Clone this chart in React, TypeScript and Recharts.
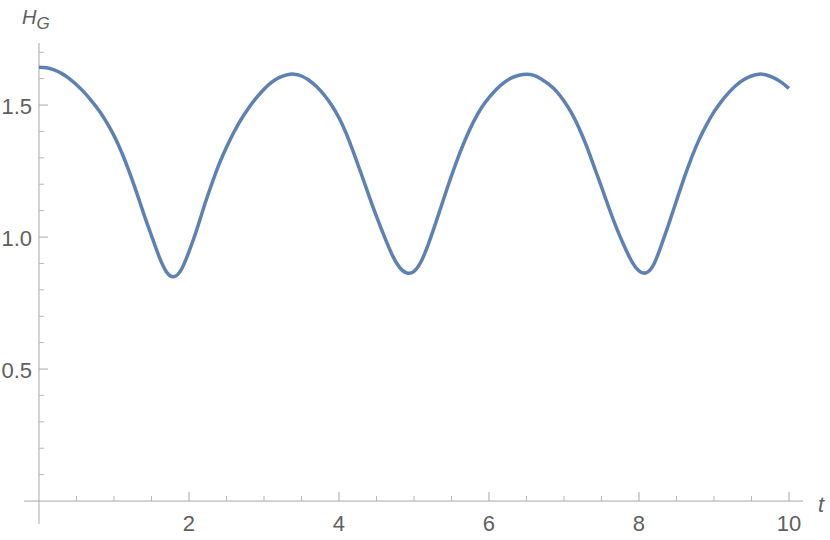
import React from 'react';
import { LineChart, Line, XAxis, YAxis, ReferenceLine } from 'recharts';

const tValues = [
  0.0, 0.1, 0.2, 0.3, 0.4, 0.5, 0.6, 0.7, 0.8, 0.9,
  1.0, 1.1, 1.2, 1.3, 1.4, 1.5, 1.6, 1.7, 1.8, 1.9,
  2.0, 2.1, 2.2, 2.3, 2.4, 2.5, 2.6, 2.7, 2.8, 2.9,
  3.0, 3.1, 3.2, 3.3, 3.4, 3.5, 3.6, 3.7, 3.8, 3.9,
  4.0, 4.1, 4.2, 4.3, 4.4, 4.5, 4.6, 4.7, 4.8, 4.9,
  5.0, 5.1, 5.2, 5.3, 5.4, 5.5, 5.6, 5.7, 5.8, 5.9,
  6.0, 6.1, 6.2, 6.3, 6.4, 6.5, 6.6, 6.7, 6.8, 6.9,
  7.0, 7.1, 7.2, 7.3, 7.4, 7.5, 7.6, 7.7, 7.8, 7.9,
  8.0, 8.1, 8.2, 8.3, 8.4, 8.5, 8.6, 8.7, 8.8, 8.9,
  9.0, 9.1, 9.2, 9.3, 9.4, 9.5, 9.6, 9.7, 9.8, 9.9,
  10.0,
];

const hValues = [
  1.643, 1.641, 1.633, 1.620, 1.601, 1.577, 1.549, 1.516, 1.479, 1.435,
  1.384, 1.322, 1.250, 1.170, 1.085, 1.005, 0.927, 0.868, 0.850, 0.878,
  0.945, 1.025, 1.115, 1.198, 1.275, 1.340, 1.398, 1.448, 1.491, 1.528,
  1.560, 1.586, 1.604, 1.614, 1.617, 1.610, 1.594, 1.570, 1.539, 1.500,
  1.452, 1.390, 1.316, 1.237, 1.156, 1.078, 1.005, 0.938, 0.888, 0.864,
  0.870, 0.910, 0.980, 1.062, 1.148, 1.232, 1.310, 1.380, 1.440, 1.490,
  1.528, 1.560, 1.585, 1.603, 1.613, 1.617, 1.612, 1.598, 1.578, 1.552,
  1.515, 1.470, 1.413, 1.345, 1.268, 1.190, 1.110, 1.035, 0.968, 0.910,
  0.872, 0.865, 0.898, 0.970, 1.052, 1.138, 1.222, 1.300, 1.368, 1.425,
  1.474, 1.514, 1.548, 1.576, 1.597, 1.610, 1.617, 1.614, 1.603, 1.586,
  1.563,
];

const xMajorTicks = [2, 4, 6, 8, 10];
const xMinorTicks = [0.5, 1, 1.5, 2.5, 3, 3.5, 4.5, 5, 5.5, 6.5, 7, 7.5, 8.5, 9, 9.5];
const yMajorTicks = [0.5, 1.0, 1.5];
const yMinorTicks = [0.1, 0.2, 0.3, 0.4, 0.6, 0.7, 0.8, 0.9, 1.1, 1.2, 1.3, 1.4, 1.6, 1.7];
const yTickLabels = ['0.5', '1.0', '1.5'];

const xDomain: [number, number] = [-0.2, 10.187];
const yDomain: [number, number] = [-0.087, 1.735];

const data = tValues.map((t, i) => ({ t, h: hValues[i] }));

const W = 830;
const H = 540;
const MARGIN = { top: 43, right: 27, bottom: 0, left: 0 };
const X_AXIS_H = 16;
const Y_AXIS_W = 24;
const pxPerX = (W - Y_AXIS_W - MARGIN.right) / (xDomain[1] - xDomain[0]);
const pxPerY = (H - MARGIN.top - X_AXIS_H) / (yDomain[1] - yDomain[0]);
const MAJOR_LEN = 9;
const MINOR_LEN = 5;

const FONT = '"Liberation Sans", Arial, sans-serif';
const LABEL_COLOR = '#606060';
const AXIS_COLOR = '#a8a8a8';
const MINOR_COLOR = '#b8b8b8';
const LINE_COLOR = '#5E81B5';

const XTick = (props: any) => {
  const { x, y, payload } = props;
  return (
    <text x={x} y={y - 1} textAnchor="middle" dominantBaseline="central"
      fontFamily={FONT} fontSize={22} fill={LABEL_COLOR}>
      {String(payload.value)}
    </text>
  );
};

const YTick = (props: any) => {
  const { x, y, payload } = props;
  const idx = yMajorTicks.indexOf(payload.value);
  const label = idx >= 0 ? yTickLabels[idx] : String(payload.value);
  return (
    <text x={x + 8} y={y + 1} textAnchor="end" dominantBaseline="central"
      fontFamily={FONT} fontSize={22} fill={LABEL_COLOR}>
      {label}
    </text>
  );
};

const YTitle = (props: any) => {
  const vb = props.viewBox || { x: 0, y: MARGIN.top, width: Y_AXIS_W };
  return (
    <text x={vb.x + vb.width - 2} y={vb.y - 19} fontFamily={FONT} fontSize={20}
      fill={LABEL_COLOR} fontStyle="italic">
      H<tspan fontSize={17} dy={5}>G</tspan>
    </text>
  );
};

const XTitle = (props: any) => {
  const vb = props.viewBox || { x: Y_AXIS_W, y: H - X_AXIS_H, width: W - Y_AXIS_W - MARGIN.right };
  return (
    <text x={vb.x + vb.width + 15} y={vb.y - 12} fontFamily={FONT} fontSize={22}
      fill={LABEL_COLOR} fontStyle="italic">
      t
    </text>
  );
};

export default function App() {
  return (
    <div style={{ position: 'absolute', left: 0, top: 0, width: W, height: H, background: '#fff' }}>
      <LineChart width={W} height={H} data={data} margin={MARGIN}>
        <XAxis type="number" dataKey="t" domain={xDomain} allowDataOverflow
          ticks={xMajorTicks} interval={0} axisLine={false} tickLine={false}
          tickSize={0} tickMargin={0} height={X_AXIS_H} tick={<XTick />}
          label={<XTitle />} />
        <YAxis type="number" domain={yDomain} allowDataOverflow
          ticks={yMajorTicks} interval={0} axisLine={false} tickLine={false}
          tickSize={0} tickMargin={0} width={Y_AXIS_W} tick={<YTick />}
          label={<YTitle />} />
        <ReferenceLine ifOverflow="visible" stroke={AXIS_COLOR} strokeWidth={1}
          segment={[{ x: xDomain[0], y: 0 }, { x: xDomain[1], y: 0 }]} />
        <ReferenceLine ifOverflow="visible" stroke={AXIS_COLOR} strokeWidth={1}
          segment={[{ x: 0, y: yDomain[0] }, { x: 0, y: yDomain[1] }]} />
        {xMajorTicks.map((v) => (
          <ReferenceLine key={'xM' + v} ifOverflow="visible" stroke={AXIS_COLOR} strokeWidth={1}
            segment={[{ x: v, y: 0 }, { x: v, y: MAJOR_LEN / pxPerY }]} />
        ))}
        {xMinorTicks.map((v) => (
          <ReferenceLine key={'xm' + v} ifOverflow="visible" stroke={MINOR_COLOR} strokeWidth={1}
            segment={[{ x: v, y: 0 }, { x: v, y: MINOR_LEN / pxPerY }]} />
        ))}
        {yMajorTicks.map((v) => (
          <ReferenceLine key={'yM' + v} ifOverflow="visible" stroke={AXIS_COLOR} strokeWidth={1}
            segment={[{ x: 0, y: v }, { x: MAJOR_LEN / pxPerX, y: v }]} />
        ))}
        {yMinorTicks.map((v) => (
          <ReferenceLine key={'ym' + v} ifOverflow="visible" stroke={MINOR_COLOR} strokeWidth={1}
            segment={[{ x: 0, y: v }, { x: MINOR_LEN / pxPerX, y: v }]} />
        ))}
        <Line type="natural" dataKey="h" stroke={LINE_COLOR} strokeWidth={3.5}
          dot={false} activeDot={false} isAnimationActive={false} />
      </LineChart>
    </div>
  );
}
